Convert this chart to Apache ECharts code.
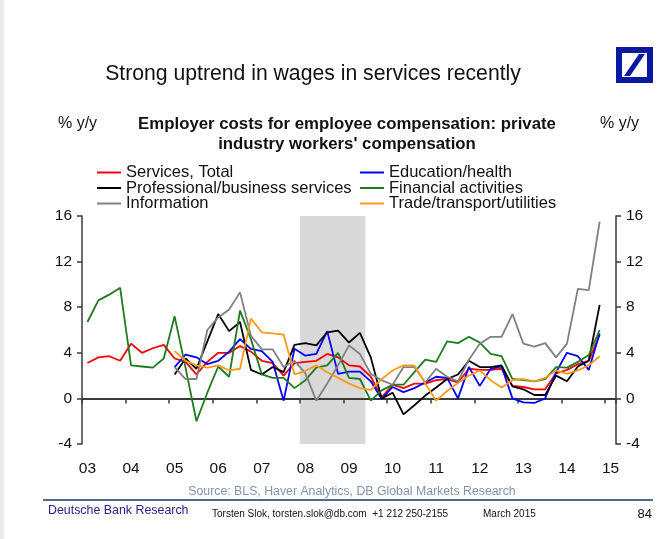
<!DOCTYPE html>
<html>
<head>
<meta charset="utf-8">
<script src="https://cdn.jsdelivr.net/npm/echarts@6/dist/echarts.min.js"></script>
<style>
html,body{margin:0;padding:0;background:#fff;}
#chart{width:670px;height:539px;}
</style>
</head>
<body>
<div id="chart"></div>
<script>
// ---- data ----
const yearLabels = ['03','04','05','06','07','08','09','10','11','12','13','14','15'];
const quarterNames = ['Q1','Q2','Q3','Q4'];
const yTicks = [-4, 0, 4, 8, 12, 16];

const servicesTotal = [3.1,3.6,3.7,3.3,4.8,4.0,4.4,4.7,3.5,3.2,2.1,3.2,4.0,4.0,4.6,4.1,3.3,3.1,2.0,3.1,3.2,3.3,3.9,3.6,2.9,2.8,1.9,0.1,1.2,0.9,1.3,1.3,1.6,1.7,1.4,2.6,2.5,2.5,2.6,1.1,1.0,0.8,0.8,2.2,2.5,3.0,3.3,5.6];
const educationHealth = [null,null,null,null,null,null,null,null,2.75,3.85,3.6,3.0,3.3,4.1,5.2,4.35,4.15,3.2,-0.2,4.35,3.75,3.9,5.9,2.15,2.35,2.35,1.5,-0.05,1.0,0.55,0.9,1.4,1.9,1.8,0.0,2.75,1.1,2.6,2.8,0.0,-0.35,-0.4,0.0,2.3,4.0,3.7,2.5,5.7];
const professionalBusiness = [null,null,null,null,null,null,null,null,2.1,3.5,2.6,5.0,7.4,5.9,6.7,2.5,2.1,2.75,2.3,4.7,4.85,4.65,5.8,5.95,4.9,5.75,3.6,0.0,0.5,-1.4,-0.6,0.25,0.95,1.7,2.1,3.3,2.75,2.75,2.9,1.05,0.8,0.3,0.3,2.0,1.5,2.8,3.3,8.2];
const financialActivities = [6.7,8.6,9.1,9.7,2.9,2.8,2.7,3.5,7.2,2.7,-2.0,0.5,2.8,1.9,7.7,5.2,2.1,1.8,1.8,0.9,1.6,2.7,2.9,4.0,1.8,1.7,-0.2,0.7,1.2,1.2,2.3,3.4,3.2,5.0,4.85,5.4,4.9,3.9,3.7,1.7,1.6,1.5,1.7,2.75,2.7,3.2,3.8,6.0];
const information = [null,null,null,null,null,null,null,null,2.75,1.7,1.7,6.0,7.1,7.8,9.3,5.5,4.3,4.3,2.75,3.3,2.2,-0.2,1.3,2.9,4.65,3.9,2.15,1.6,1.2,2.75,2.75,1.4,2.6,1.9,1.5,3.4,4.8,5.4,5.4,7.4,4.8,4.55,4.85,3.6,4.8,9.6,9.5,15.5];
const tradeTransport = [null,null,null,null,null,null,null,null,4.15,3.3,2.9,2.7,2.9,2.45,2.6,7.0,5.8,5.7,5.6,2.1,2.4,2.9,2.3,1.8,1.3,0.9,0.75,1.7,2.45,2.9,2.9,1.3,-0.2,0.65,1.35,2.0,2.45,1.6,0.95,1.6,1.7,1.5,1.8,2.45,2.15,2.45,2.9,3.7];

// recession band: from start of 2008Q1 to end of 2009Q2 (quarter-slot positions)
const recessionStart = 20;
const recessionEnd = 26;

// categories: 2003Q1 ... 2015Q1
const categories = [];
yearLabels.forEach(function (y, yi) {
  quarterNames.forEach(function (q) {
    if (yi < yearLabels.length - 1 || q === 'Q1') categories.push('20' + y + q);
  });
});

const FONT = 'Liberation Sans, Arial, sans-serif';
const chart = echarts.init(document.getElementById('chart'));

function lineSeries(name, data, color) {
  return {
    name: name, type: 'line', data: data, xAxisIndex: 0, yAxisIndex: 0,
    symbol: 'none', showSymbol: false, connectNulls: false, z: 3,
    lineStyle: { color: color, width: 1.8 }, itemStyle: { color: color },
    emphasis: { disabled: true }
  };
}

const legendCommon = {
  top: 164, orient: 'vertical', itemWidth: 24, itemHeight: 2, itemGap: -1.5, padding: 0,
  icon: 'rect',
  textStyle: { fontSize: 16.5, color: '#111', fontFamily: FONT, lineHeight: 15 },
  selectedMode: false
};

const option = {
  animation: false,
  backgroundColor: '#ffffff',
  grid: { left: 82, right: 54, top: 216, bottom: 95, containLabel: false },
  legend: [
    Object.assign({}, legendCommon, {
      left: 97,
      data: ['Services, Total', 'Professional/business services', 'Information']
    }),
    Object.assign({}, legendCommon, {
      left: 360,
      data: ['Education/health', 'Financial activities', 'Trade/transport/utilities']
    })
  ],
  xAxis: [
    {
      type: 'category', data: categories, boundaryGap: true, z: 2,
      axisLine: { onZero: true, lineStyle: { color: '#3a3a3a', width: 2 } },
      axisTick: { show: true, interval: 3, length: 5, lineStyle: { color: '#3a3a3a', width: 1.5 } },
      axisLabel: { show: false },
      splitLine: { show: false }
    },
    {
      type: 'category', data: categories, boundaryGap: true, position: 'bottom',
      axisLine: { show: false, onZero: false },
      axisTick: { show: false },
      axisLabel: {
        show: true, interval: 3, margin: 17, fontSize: 15.5, color: '#111', fontFamily: FONT,
        formatter: function (v) { return v.slice(2, 4); }
      },
      splitLine: { show: false }
    },
    {
      type: 'value', min: 0, max: categories.length, show: false
    }
  ],
  yAxis: [
    {
      type: 'value', min: yTicks[0], max: yTicks[yTicks.length - 1], interval: 4, position: 'left',
      axisLine: { show: true, onZero: false, lineStyle: { color: '#3a3a3a', width: 1.5 } },
      axisTick: { show: true, length: 5, lineStyle: { color: '#3a3a3a', width: 1.5 } },
      axisLabel: { fontSize: 15.5, color: '#111', fontFamily: FONT, margin: 10 },
      splitLine: { show: false }
    },
    {
      type: 'value', min: yTicks[0], max: yTicks[yTicks.length - 1], interval: 4, position: 'right',
      axisLine: { show: true, onZero: false, lineStyle: { color: '#3a3a3a', width: 1.5 } },
      axisTick: { show: true, length: 5, lineStyle: { color: '#3a3a3a', width: 1.5 } },
      axisLabel: { fontSize: 15.5, color: '#111', fontFamily: FONT, margin: 10 },
      splitLine: { show: false }
    }
  ],
  series: [
    {
      name: 'recession', type: 'line', xAxisIndex: 2, yAxisIndex: 0, data: [], z: 0,
      symbol: 'none', silent: true,
      markArea: {
        silent: true, z: 0,
        itemStyle: { color: '#d9d9d9' },
        data: [[{ xAxis: recessionStart }, { xAxis: recessionEnd }]]
      }
    },
    lineSeries('Services, Total', servicesTotal, '#ff0000'),
    lineSeries('Education/health', educationHealth, '#0000ff'),
    lineSeries('Professional/business services', professionalBusiness, '#000000'),
    lineSeries('Financial activities', financialActivities, '#1e7b1e'),
    lineSeries('Information', information, '#808080'),
    lineSeries('Trade/transport/utilities', tradeTransport, '#ff9a1e')
  ],
  graphic: [
    { type: 'rect', shape: { x: 0, y: 0, width: 4, height: 539 }, style: { fill: '#ecebe8' }, silent: true },
    { type: 'text', x: 313, y: 74, style: { text: 'Strong uptrend in wages in services recently', fontSize: 21.2, fontFamily: FONT, fill: '#111', align: 'center', verticalAlign: 'middle' } },
    { type: 'text', x: 347, y: 124, style: { text: 'Employer costs for employee compensation: private', fontSize: 16.8, fontWeight: 'bold', fontFamily: FONT, fill: '#111', align: 'center', verticalAlign: 'middle' } },
    { type: 'text', x: 347, y: 144, style: { text: "industry workers' compensation", fontSize: 16.8, fontWeight: 'bold', fontFamily: FONT, fill: '#111', align: 'center', verticalAlign: 'middle' } },
    { type: 'text', x: 58, y: 124, style: { text: '% y/y', fontSize: 16, fontFamily: FONT, fill: '#111', align: 'left', verticalAlign: 'middle' } },
    { type: 'text', x: 600, y: 124, style: { text: '% y/y', fontSize: 16, fontFamily: FONT, fill: '#111', align: 'left', verticalAlign: 'middle' } },
    { type: 'text', x: 352, y: 492, style: { text: 'Source: BLS, Haver Analytics, DB Global Markets Research', fontSize: 12.3, fontFamily: FONT, fill: '#8393aa', align: 'center', verticalAlign: 'middle' } },
    { type: 'line', shape: { x1: 43, y1: 500, x2: 653, y2: 500 }, style: { stroke: '#52688e', lineWidth: 2 }, silent: true },
    { type: 'text', x: 48, y: 511, style: { text: 'Deutsche Bank Research', fontSize: 12.4, fontFamily: FONT, fill: '#25258a', align: 'left', verticalAlign: 'middle' } },
    { type: 'text', x: 212, y: 514, style: { text: 'Torsten Slok, torsten.slok@db.com  +1 212 250-2155', fontSize: 10, fontFamily: FONT, fill: '#111', align: 'left', verticalAlign: 'middle' } },
    { type: 'text', x: 483, y: 514, style: { text: 'March 2015', fontSize: 10, fontFamily: FONT, fill: '#111', align: 'left', verticalAlign: 'middle' } },
    { type: 'text', x: 652, y: 514, style: { text: '84', fontSize: 13, fontFamily: FONT, fill: '#111', align: 'right', verticalAlign: 'middle' } },
    // Deutsche Bank logo
    { type: 'rect', shape: { x: 619, y: 50, width: 31, height: 30 }, style: { fill: 'none', stroke: '#0a1aa0', lineWidth: 6 }, silent: true },
    { type: 'polygon', shape: { points: [[624, 76], [630, 76], [645, 54], [639, 54]] }, style: { fill: '#0a1aa0' }, silent: true }
  ]
};
chart.setOption(option);
</script>
</body>
</html>
